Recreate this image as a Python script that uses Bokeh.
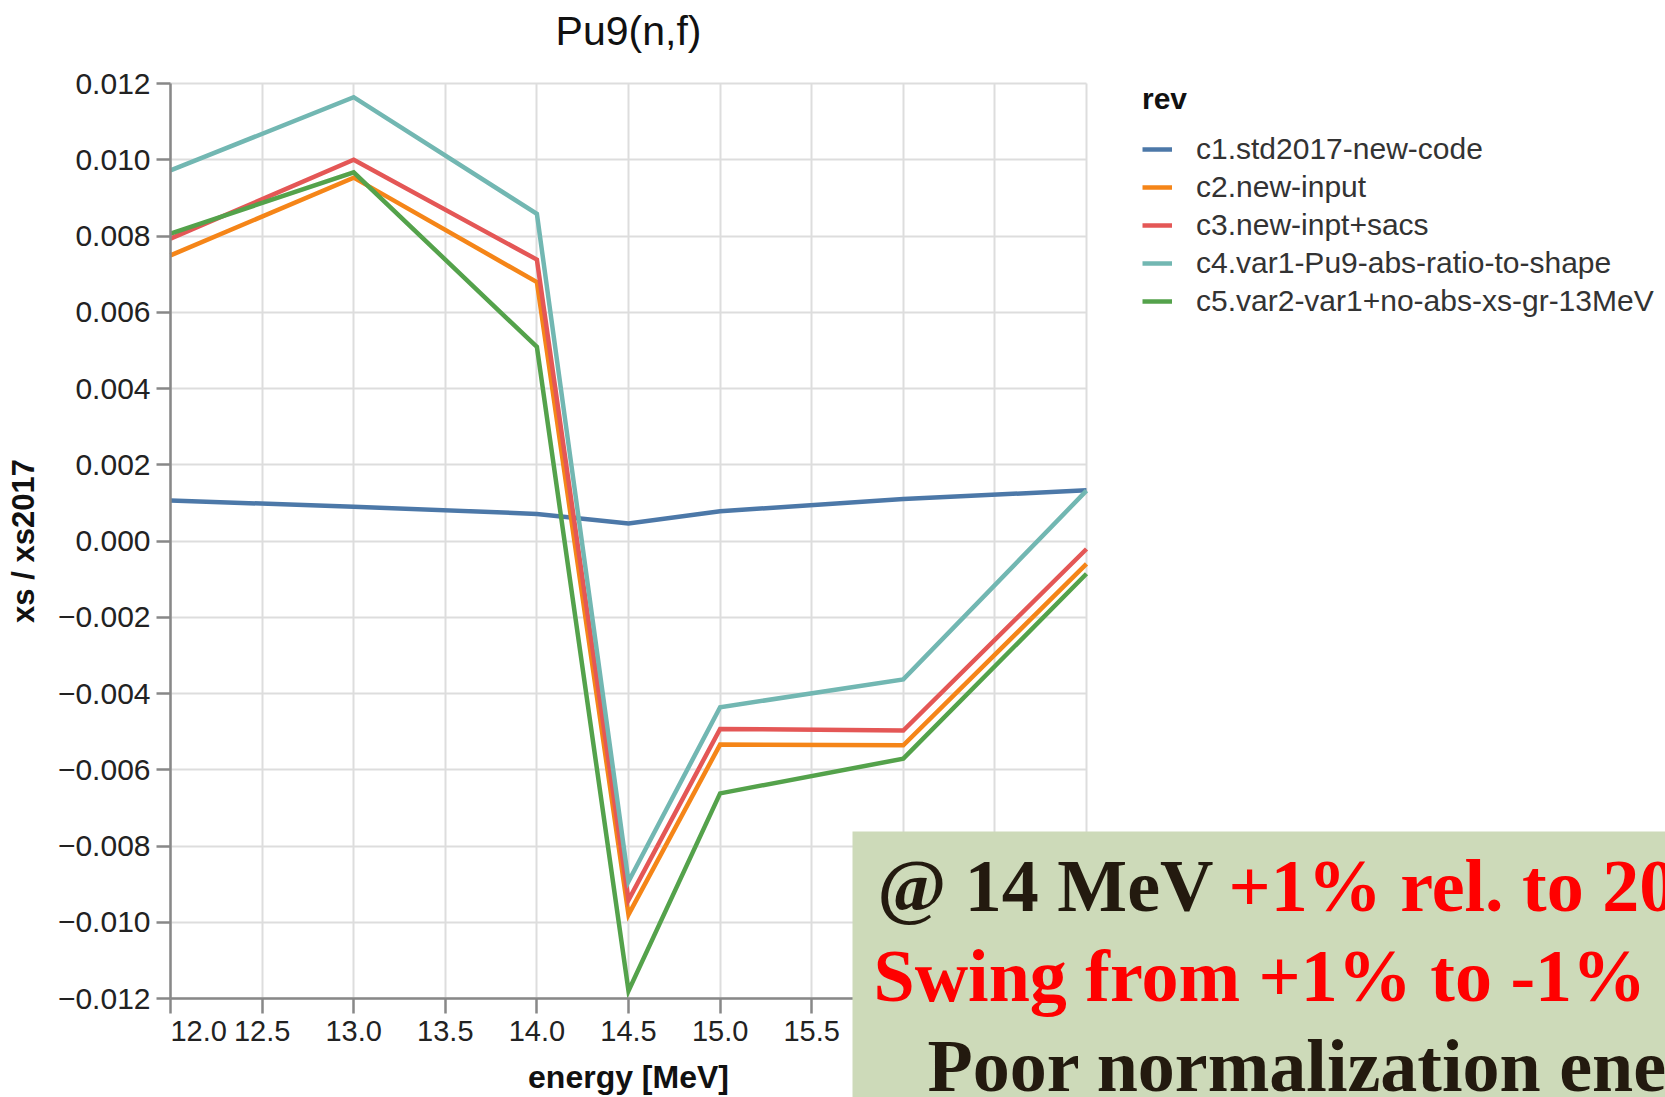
from bokeh.plotting import figure
from bokeh.models import (Range1d, FixedTicker, CustomJSTickFormatter, Legend, LegendItem,
                          BoxAnnotation, Label, Grid)
from bokeh.embed import file_html
from bokeh.resources import INLINE

# ---------------- data ----------------
energy = [12.0, 13.0, 14.0, 14.5, 15.0, 16.0, 17.0]

rev_names = [
    "c1.std2017-new-code",
    "c2.new-input",
    "c3.new-inpt+sacs",
    "c4.var1-Pu9-abs-ratio-to-shape",
    "c5.var2-var1+no-abs-xs-gr-13MeV",
]

c1 = [0.00106, 0.00090, 0.00071, 0.00046, 0.00078, 0.00110, 0.00133]
c2 = [0.00749, 0.00953, 0.00679, -0.00980, -0.00534, -0.00536, -0.00060]
c3 = [0.00793, 0.01000, 0.00738, -0.00942, -0.00493, -0.00497, -0.00021]
c4 = [0.00972, 0.01164, 0.00858, -0.00893, -0.00436, -0.00363, 0.00132]
c5 = [0.00806, 0.00967, 0.00509, -0.01180, -0.00662, -0.00571, -0.00086]
series = [c1, c2, c3, c4, c5]

x_ticks = [12.0, 12.5, 13.0, 13.5, 14.0, 14.5, 15.0, 15.5, 16.0, 16.5, 17.0]
x_tick_labels = ["12.0", "12.5", "13.0", "13.5", "14.0", "14.5", "15.0", "15.5", "16.0", "16.5", "17.0"]
y_ticks = [-0.012, -0.010, -0.008, -0.006, -0.004, -0.002, 0.0, 0.002, 0.004, 0.006, 0.008, 0.010, 0.012]
y_tick_labels = ["\u22120.012", "\u22120.010", "\u22120.008", "\u22120.006", "\u22120.004", "\u22120.002",
                 "0.000", "0.002", "0.004", "0.006", "0.008", "0.010", "0.012"]

chart_title = "Pu9(n,f)"
note_line1_dark = "@ 14 MeV"
note_line1_red = "+1% rel. to 20"
note_line2 = "Swing from +1% to -1%"
note_line3 = "Poor normalization ene"

# ---------------- layout / style ----------------
W, H = 1665, 1097
LEFT, TOP = 170, 83            # top-left corner of the data area on the page
PLOT_W, PLOT_H = 916, 915      # size of the data area (12..17, -0.012..0.012)
x0, x1 = x_ticks[0], x_ticks[-1]
y0, y1 = y_ticks[0], y_ticks[-1]
ppx = (x1 - x0) / PLOT_W       # data units per pixel
ppy = (y1 - y0) / PLOT_H
x_start = x0 - LEFT * ppx
x_end = x0 + (W - LEFT) * ppx
y_end = y1 + TOP * ppy
y_start = y1 - (H - TOP) * ppy

colors = ["#4c78a8", "#f58518", "#e45756", "#72b7b2", "#54a24b"]
SANS = "Liberation Sans"
SERIF = "Liberation Serif"
TXT = "#222222"

p = figure(width=W, height=H, output_backend="svg", toolbar_location=None,
           x_range=Range1d(x_start, x_end), y_range=Range1d(y_start, y_end),
           min_border_left=0, min_border_right=0, min_border_top=0, min_border_bottom=0)
p.outline_line_color = None
p.background_fill_color = "white"
p.border_fill_color = "white"

fmt_code = """
for (let i = 0; i < tv.length; i++) { if (Math.abs(tv[i] - tick) < 1e-9) return lv[i]; }
return '';
"""
x_axis_labels = ["\u00a0" * 7 + x_tick_labels[0]] + x_tick_labels[1:]
xt = FixedTicker(ticks=x_ticks)
yt = FixedTicker(ticks=y_ticks)
p.xaxis.ticker = xt
p.yaxis.ticker = yt
p.xgrid.ticker = xt
p.ygrid.ticker = yt
p.xaxis.formatter = CustomJSTickFormatter(args=dict(tv=x_ticks, lv=x_axis_labels), code=fmt_code)
p.yaxis.formatter = CustomJSTickFormatter(args=dict(tv=y_ticks, lv=y_tick_labels), code=fmt_code)

for ax in (p.xaxis, p.yaxis):
    ax.axis_line_color = "#888888"
    ax.axis_line_width = 2.5
    ax.major_tick_line_color = "#888888"
    ax.major_tick_line_width = 2.5
    ax.major_tick_in = 0
    ax.minor_tick_line_color = None
    ax.major_label_text_font = SANS
    ax.major_label_text_color = TXT
    ax.axis_label_text_font = SANS
    ax.axis_label_text_font_style = "bold"
    ax.axis_label_text_color = "#111111"

p.xaxis.bounds = (x0, x1)
p.yaxis.bounds = (y0, y1)
p.xaxis.fixed_location = y0
p.yaxis.fixed_location = x0
p.xaxis.major_tick_out = 15
p.xaxis.major_label_standoff = 1
p.xaxis.major_label_text_font_size = "29px"
p.xaxis.axis_label = "energy [MeV]"
p.xaxis.axis_label_text_font_size = "32px"
p.xaxis.axis_label_standoff = 9
p.yaxis.major_tick_out = 14
p.yaxis.major_label_standoff = 6
p.yaxis.major_label_text_font_size = "30px"
p.yaxis.axis_label = "xs / xs2017"
p.yaxis.axis_label_text_font_size = "31px"
p.yaxis.axis_label_standoff = 14

for g in (p.xgrid, p.ygrid):
    g.grid_line_color = "#dddddd"
    g.grid_line_width = 2
p.xgrid.bounds = (x0, x1)
p.ygrid.bounds = (y0, y1)
if "cross_bounds" in Grid.properties():
    p.xgrid.cross_bounds = (y0, y1)
    p.ygrid.cross_bounds = (x0, x1)
else:
    p.xgrid.visible = False
    p.ygrid.visible = False
    p.segment(x0=x_ticks, y0=[y0] * len(x_ticks), x1=x_ticks, y1=[y1] * len(x_ticks),
              line_color="#dddddd", line_width=2, level="underlay")
    p.segment(x0=[x0] * len(y_ticks), y0=y_ticks, x1=[x1] * len(y_ticks), y1=y_ticks,
              line_color="#dddddd", line_width=2, level="underlay")

renderers = []
for ys, col in zip(series, colors):
    r = p.line(energy, ys, line_color=col, line_width=4.5, line_join="miter")
    renderers.append(r)

legend = Legend(items=[LegendItem(label=n, renderers=[r]) for n, r in zip(rev_names, renderers)],
                title="rev", location=(1142, 779))
legend.title_text_font = SANS
legend.title_text_font_size = "30px"
legend.title_text_font_style = "bold"
legend.title_text_color = "#111111"
legend.title_standoff = 16
legend.label_text_font = SANS
legend.label_text_font_size = "30px"
legend.label_text_color = "#333333"
legend.glyph_width = 30
legend.glyph_height = 32
legend.label_height = 32
legend.label_standoff = 24
legend.spacing = 4
legend.padding = 4
legend.margin = 0
legend.border_line_color = None
legend.background_fill_alpha = 0
p.add_layout(legend)

# chart title (screen units from the canvas' bottom-left)
p.add_layout(Label(x=628, y=1067, x_units="screen", y_units="screen", text=chart_title,
                   text_font=SANS, text_font_size="41px", text_color="#111111",
                   text_align="center", text_baseline="alphabetic"))

# overlay note box
box = BoxAnnotation(left=852, right=W, top=266, bottom=0,
                    left_units="screen", right_units="screen", top_units="screen", bottom_units="screen",
                    fill_color="#cddab9", fill_alpha=1.0, line_color=None)
p.add_layout(box)

DARK = "#231a0f"
RED = "#ff0000"
for txt, x, y, col in [(note_line1_dark, 877, 212, DARK), (note_line1_red, 1228, 212, RED),
                       (note_line2, 873, 122, RED), (note_line3, 927, 32, DARK)]:
    p.add_layout(Label(x=x, y=y, x_units="screen", y_units="screen", text=txt,
                       text_font=SERIF, text_font_style="bold", text_font_size="74px",
                       text_color=col, text_baseline="alphabetic", text_align="left"))

open("out.html", "w").write(file_html(p, INLINE, title=chart_title))
